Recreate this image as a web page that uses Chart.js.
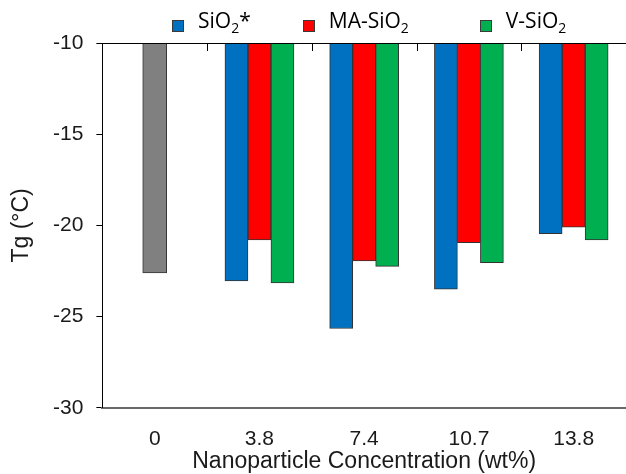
<!DOCTYPE html>
<html>
<head>
<meta charset="utf-8">
<script src="https://cdn.jsdelivr.net/npm/chart.js@4.4.1/dist/chart.umd.min.js"></script>
<style>
  body { margin: 0; background: #fff; }
  #wrap { position: relative; width: 626px; height: 474px; }
  #legend { position: absolute; top: 6px; left: 172px; display: flex; font-family: 'Open Sans', sans-serif; font-size: 21px; line-height: 28px; color: #000; white-space: nowrap; }
  #legend .item:nth-child(1) { margin-right: 52px; }
  #legend .item:nth-child(2) { margin-right: 71px; }
  #legend .swatch { display: inline-block; width: 10px; height: 10px; border: 1px solid #3a3a3a; vertical-align: -4px; margin-right: 14px; }
  #legend .sub { font-size: 14px; vertical-align: -5px; line-height: 0; }
</style>
</head>
<body>
<div id="wrap">
  <canvas id="tgChart" width="626" height="474"></canvas>
  <div id="legend"></div>
</div>
<script>
let categories = ['0', '3.8', '7.4', '10.7', '13.8'];
let controlTg = [-22.6, null, null, null, null];
let sio2Tg = [null, -23.05, -25.65, -23.5, -20.45];
let maSio2Tg = [null, -20.8, -21.95, -20.95, -20.1];
let vSio2Tg = [null, -23.15, -22.25, -22.05, -20.8];
let yMin = -30, yMax = -10, yStep = 5;

const axisFont = { family: "'Liberation Sans', Arial, sans-serif", size: 21 };
const titleFont = { family: "'Liberation Sans', Arial, sans-serif", size: 23, lineHeight: 1 };
const edge = '#333';

// legend drawn as html so the subscript 2 looks right
const htmlLegend = {
    id: 'htmlLegend',
    afterUpdate(chart) {
        const box = document.getElementById('legend');
        box.innerHTML = '';
        chart.data.datasets.forEach(ds => {
            if (ds.hideInLegend) return;
            const item = document.createElement('span');
            item.className = 'item';
            const swatch = document.createElement('span');
            swatch.className = 'swatch';
            swatch.style.background = ds.backgroundColor;
            const text = document.createElement('span');
            text.innerHTML = ds.label.replace('₂', '<span class="sub">2</span>');
            item.append(swatch, text);
            box.appendChild(item);
        });
    }
};

// black line on top of the plot with short inward ticks between categories
const topAxis = {
    id: 'topAxis',
    afterDraw(chart) {
        const { ctx, chartArea } = chart;
        const x = chart.scales.x;
        ctx.save();
        ctx.strokeStyle = '#000';
        ctx.lineWidth = 1;
        ctx.beginPath();
        ctx.moveTo(chartArea.left, chartArea.top + 0.5);
        ctx.lineTo(chartArea.right, chartArea.top + 0.5);
        for (let i = 1; i < categories.length; i++) {
            const px = Math.round(x.getPixelForValue(i - 0.5)) + 0.5;
            ctx.moveTo(px, chartArea.top);
            ctx.lineTo(px, chartArea.top + 8);
        }
        ctx.stroke();
        ctx.restore();
    }
};

const barStyle = { borderColor: edge, borderWidth: 1, barThickness: 23 };

new Chart(document.getElementById('tgChart'), {
    type: 'bar',
    data: {
        labels: categories,
        datasets: [
            { ...barStyle, label: 'Control', data: controlTg, backgroundColor: '#808080', barThickness: 24, hideInLegend: true },
            { ...barStyle, label: 'SiO₂*', data: sio2Tg, backgroundColor: '#0070C0' },
            { ...barStyle, label: 'MA-SiO₂', data: maSio2Tg, backgroundColor: '#FF0000' },
            { ...barStyle, label: 'V-SiO₂', data: vSio2Tg, backgroundColor: '#00B050' }
        ]
    },
    options: {
        responsive: false,
        animation: false,
        skipNull: true,
        layout: { padding: { top: 43, right: -3, bottom: 1, left: 0 } },
        plugins: {
            legend: { display: false },
            tooltip: { enabled: false }
        },
        scales: {
            x: {
                position: 'bottom',
                offset: true,
                grid: { display: false, drawTicks: false },
                border: { color: '#6a6a6a', width: 2 },
                ticks: { font: axisFont, color: '#1a1a1a', padding: 19 },
                title: {
                    display: true,
                    text: 'Nanoparticle Concentration (wt%)',
                    font: titleFont,
                    color: '#1a1a1a',
                    padding: { top: -21, bottom: 0 }
                }
            },
            y: {
                min: yMin,
                max: yMax,
                ticks: { stepSize: yStep, font: axisFont, color: '#1a1a1a', padding: 13 },
                grid: { drawOnChartArea: false, tickLength: 6, tickColor: '#000' },
                border: { color: '#000', width: 1 },
                title: {
                    display: true,
                    text: 'Tg (°C)',
                    font: titleFont,
                    color: '#1a1a1a',
                    padding: { top: 10, bottom: 7 }
                }
            }
        }
    },
    plugins: [htmlLegend, topAxis]
});
</script>
</body>
</html>
